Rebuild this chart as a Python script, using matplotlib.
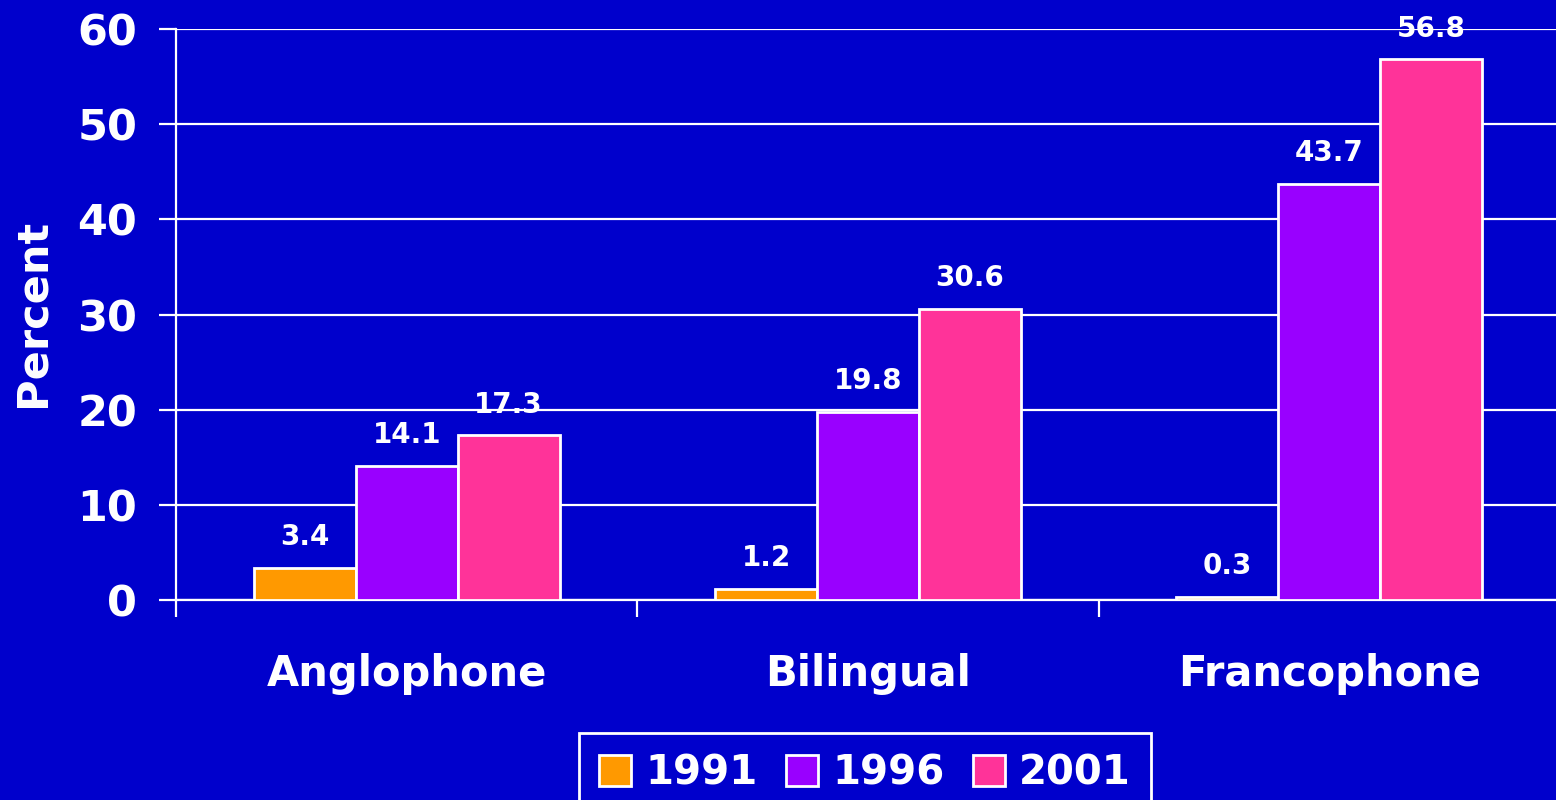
import matplotlib.pyplot as plt
import numpy as np

# データ
categories = ['Anglophone', 'Bilingual', 'Francophone']
years = ['1991', '1996', '2001']
v1991 = [3.4, 1.2, 0.3]
v1996 = [14.1, 19.8, 43.7]
v2001 = [17.3, 30.6, 56.8]
colors = ['#FF9900', '#9900FF', '#FF3399']
bg = '#0000CC'

plt.rcParams['font.family'] = ['DejaVu Sans']
plt.rcParams['font.weight'] = 'bold'

fig = plt.figure(figsize=(15.56, 8), dpi=100, facecolor=bg)
ax = fig.add_axes([176 / 1556, 200 / 800, 1384 / 1556, 571 / 800])
ax.set_facecolor(bg)

x = np.arange(len(categories))
w = 0.221
series = [v1991, v1996, v2001]
for i, (vals, c, yr) in enumerate(zip(series, colors, years)):
    bars = ax.bar(x + (i - 1) * w, vals, w, color=c, edgecolor='white',
                  linewidth=2, label=yr, zorder=3)
    for b, v in zip(bars, vals):
        ax.annotate(f'{v}', (b.get_x() + b.get_width() / 2, v),
                    xytext=(0, 12), textcoords='offset points',
                    ha='center', va='bottom', color='white',
                    fontsize=20, fontweight='bold', zorder=4)

ax.set_xlim(-0.5, 2.5)
ax.set_ylim(0, 60)
ax.set_yticks(range(0, 61, 10))
ax.grid(axis='y', color='white', linewidth=1.6, zorder=0)

# 枠線
for s in ['top', 'right']:
    ax.spines[s].set_visible(False)
for s in ['left', 'bottom']:
    ax.spines[s].set_color('white')
    ax.spines[s].set_linewidth(1.6)

ax.tick_params(axis='y', colors='white', length=12, width=1.6, pad=16,
               labelsize=31)
ax.set_xticks([-0.5, 0.5, 1.5])
ax.set_xticklabels([])
ax.tick_params(axis='x', which='major', colors='white', length=12, width=1.6)
ax.set_xticks(x, minor=True)
ax.set_xticklabels(categories, minor=True)
ax.tick_params(axis='x', which='minor', length=0, pad=38, labelsize=30,
               labelcolor='white')
for lab in ax.get_yticklabels() + ax.get_xticklabels(minor=True):
    lab.set_fontweight('bold')

ax.set_ylabel('Percent', color='white', fontsize=31, fontweight='bold',
              va='center')
ax.yaxis.set_label_coords((32 - 176) / 1384, 0.503)

leg = fig.legend(loc='upper center', bbox_to_anchor=(865 / 1556, 1 - 733 / 800),
                 ncol=3, frameon=True, fancybox=False, fontsize=29,
                 framealpha=1, handlelength=0.8, handleheight=0.8,
                 handletextpad=0.35, columnspacing=0.7, borderpad=0.5,
                 borderaxespad=0)
leg.get_frame().set_facecolor(bg)
leg.get_frame().set_edgecolor('white')
leg.get_frame().set_linewidth(2)
for t in leg.get_texts():
    t.set_color('white')
    t.set_fontweight('bold')

fig.savefig('out.png', dpi=100, facecolor=bg)
